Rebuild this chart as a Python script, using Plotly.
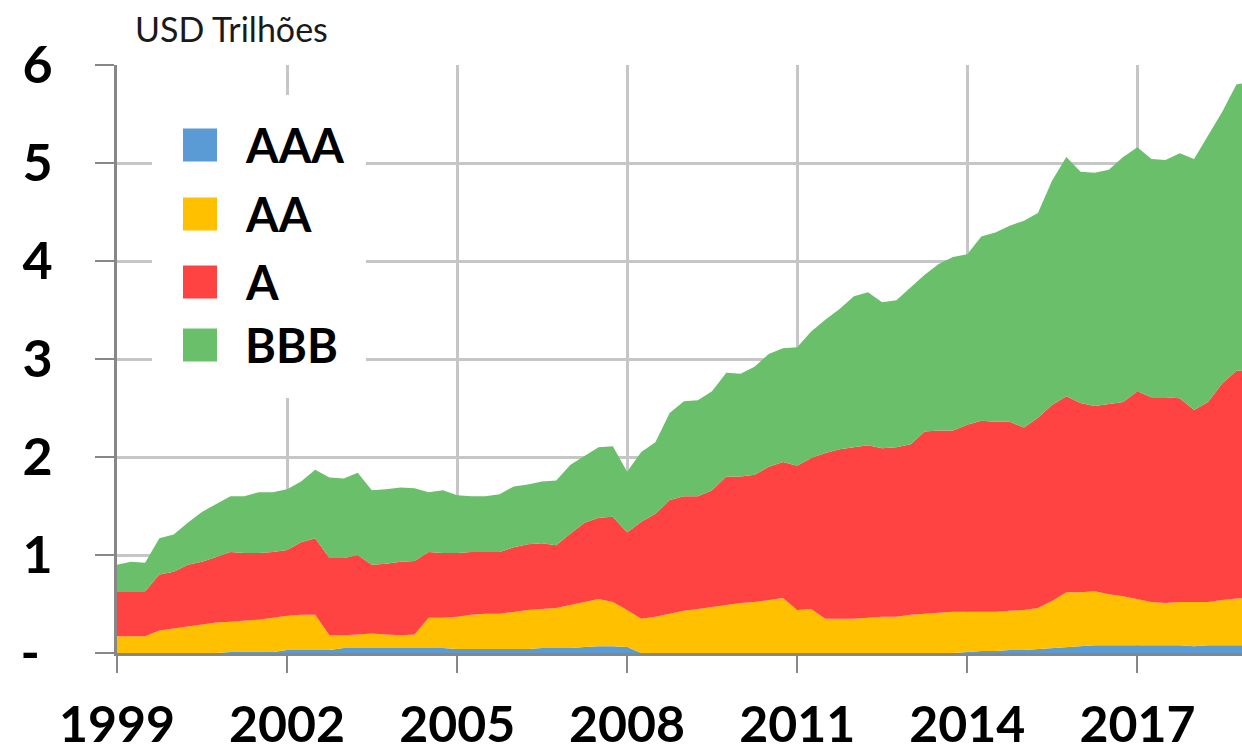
import pandas as pd
import plotly.graph_objects as go

# quarterly observations, last point is the end of the sample (Nov 2018)
dates = list(pd.date_range("1999-01-01", periods=80, freq="QS").strftime("%Y-%m-%d")) + ["2018-11-06"]

aaa = [0, 0, 0, 0, 0, 0, 0, 0,
       .01, .01, .01, .01, .03, .03, .03, .03,
       .05, .05, .05, .05, .05, .05, .05, .05,
       .04, .04, .04, .04, .04, .04, .05, .05,
       .05, .06, .07, .07, .06, 0, 0, 0,
       0, 0, 0, 0, 0, 0, 0, 0,
       0, 0, 0, 0, 0, 0, 0, 0,
       0, 0, 0, 0, .01, .02, .02, .03,
       .03, .04, .05, .06, .07, .08, .08, .08,
       .08, .08, .08, .08, .07, .08, .08, .08,
       .08]
aa = [.17, .17, .17, .23, .25, .27, .29, .31,
      .31, .32, .33, .35, .35, .36, .36, .15,
      .13, .14, .15, .14, .13, .14, .31, .31,
      .33, .35, .36, .36, .38, .40, .40, .41,
      .44, .46, .48, .45, .38, .35, .37, .40,
      .43, .45, .47, .49, .51, .52, .54, .56,
      .44, .45, .35, .35, .35, .36, .37, .37,
      .39, .40, .41, .42, .41, .40, .40, .40,
      .41, .42, .48, .56, .55, .55, .52, .50,
      .47, .44, .43, .44, .45, .44, .46, .47,
      .48]
a = [.46, .46, .46, .57, .58, .63, .64, .67,
     .71, .69, .68, .67, .67, .74, .78, .79,
     .79, .81, .70, .72, .75, .75, .67, .66,
     .65, .64, .63, .63, .66, .67, .67, .64,
     .73, .81, .83, .87, .79, .99, 1.05, 1.16,
     1.17, 1.15, 1.19, 1.31, 1.29, 1.30, 1.36, 1.39,
     1.47, 1.54, 1.69, 1.73, 1.75, 1.76, 1.72, 1.73,
     1.74, 1.86, 1.86, 1.85, 1.91, 1.95, 1.94, 1.93,
     1.86, 1.94, 2.00, 2.00, 1.93, 1.89, 1.94, 1.98,
     2.12, 2.09, 2.10, 2.08, 1.96, 2.04, 2.21, 2.33,
     2.32]
bbb = [.27, .30, .29, .37, .38, .43, .51, .54,
       .57, .58, .62, .61, .62, .62, .70, .82,
       .81, .84, .76, .76, .76, .74, .61, .64,
       .59, .57, .57, .59, .62, .61, .63, .66,
       .70, .68, .72, .72, .62, .71, .73, .89,
       .97, .98, 1.01, 1.06, 1.05, 1.10, 1.15, 1.16,
       1.21, 1.29, 1.36, 1.43, 1.54, 1.56, 1.49, 1.50,
       1.60, 1.60, 1.70, 1.77, 1.74, 1.88, 1.93, 2.00,
       2.11, 2.09, 2.29, 2.44, 2.36, 2.38, 2.39, 2.50,
       2.49, 2.43, 2.42, 2.50, 2.56, 2.72, 2.77, 2.92,
       2.93]

year_ticks = ["1999", "2002", "2005", "2008", "2011", "2014", "2017"]
y_ticks = [0, 1, 2, 3, 4, 5, 6]
y_labels = ["-\u00a0", "1", "2", "3", "4", "5", "6"]

series = [("AAA", aaa, "#5B9BD5"), ("AA", aa, "#FFC000"),
          ("A", a, "#FF4343"), ("BBB", bbb, "#6ABF6A")]

# plot area in pixels: x 117..1242, y 65..653
L, R, T, B = 117, 1242, 65, 653
def px_x(p):
    return (p - L) / (R - L)
def px_y(p):
    return (B - p) / (B - T)

fig = go.Figure()
for name, vals, color in series:
    fig.add_trace(go.Scatter(x=dates, y=vals, name=name, mode="lines",
                             line=dict(width=0, color=color), fillcolor=color,
                             stackgroup="rating", showlegend=False))

axis_grey = "#878787"
grid_grey = "#C6C6C6"

fig.update_layout(width=1242, height=753, margin=dict(l=L, r=1242 - R, t=T, b=753 - B),
                  paper_bgcolor="white", plot_bgcolor="white", showlegend=False,
                  font=dict(family="Lato", color="black"))
fig.update_xaxes(type="date", range=["1999-01-01", "2018-11-06"], automargin=False,
                 tickvals=[y + "-01-01" for y in year_ticks],
                 ticktext=["<b>" + y + "</b>" for y in year_ticks],
                 tickfont=dict(size=50, color="black"), ticklabelstandoff=9,
                 showgrid=True, gridcolor=grid_grey, gridwidth=3,
                 showline=True, linecolor=axis_grey, linewidth=3,
                 ticks="outside", ticklen=17, tickwidth=2, tickcolor=axis_grey)
fig.update_yaxes(range=[0, 6], tickvals=y_ticks, automargin=False,
                 ticktext=["<b>" + t + "</b>" for t in y_labels],
                 tickfont=dict(size=52, color="black"), ticklabelstandoff=32,
                 showgrid=True, gridcolor=grid_grey, gridwidth=3, zeroline=False,
                 showline=True, linecolor=axis_grey, linewidth=3,
                 ticks="outside", ticklen=19, tickwidth=2, tickcolor=axis_grey)

# legend drawn by hand: white panel, coloured squares, labels
shapes = [dict(type="rect", xref="paper", yref="paper", layer="above",
               x0=px_x(152), x1=px_x(366), y0=px_y(398), y1=px_y(95),
               fillcolor="white", line=dict(width=0))]
annotations = []
legend_y = [145, 214, 282, 345]
for (name, vals, color), cy in zip(series, legend_y):
    shapes.append(dict(type="rect", xref="paper", yref="paper", layer="above",
                       x0=px_x(183), x1=px_x(217), y0=px_y(cy + 16.5), y1=px_y(cy - 16.5),
                       fillcolor=color, line=dict(width=0)))
    annotations.append(dict(text="<b>" + name + "</b>", xref="paper", yref="paper",
                            x=px_x(243), y=px_y(cy), xanchor="left", yanchor="middle",
                            showarrow=False, font=dict(size=47, color="black")))

annotations.append(dict(text="USD Trilhões", xref="paper", yref="paper",
                        x=px_x(133), y=px_y(29), xanchor="left", yanchor="middle",
                        showarrow=False, font=dict(size=34, color="#1a1a1a")))

fig.update_layout(shapes=shapes, annotations=annotations)
fig.write_html("out.html", config={"displayModeBar": False},
               post_script="document.body.style.margin = '0px';")
